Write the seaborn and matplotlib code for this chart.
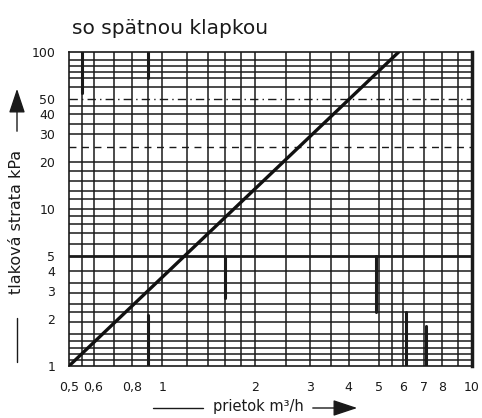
import numpy as np
import pandas as pd
import seaborn as sns
import matplotlib.pyplot as plt

# characteristic line (flow m3/h vs pressure loss kPa)
flow = [0.5, 5.8]
loss = [1, 100]

x_ticks = [0.5, 0.6, 0.8, 1, 2, 3, 4, 5, 6, 7, 8, 10]
x_labels = ['0,5', '0,6', '0,8', '1', '2', '3', '4', '5', '6', '7', '8', '10']
y_ticks = [1, 2, 3, 4, 5, 10, 20, 30, 40, 50, 100]
y_labels = ['1', '2', '3', '4', '5', '10', '20', '30', '40', '50', '100']

# graph paper grid
x_grid = [0.55, 0.6, 0.7, 0.8, 0.9, 1, 1.2, 1.4, 1.6, 1.8, 2, 2.5, 3, 3.5, 4, 5, 5.5, 6, 7, 8, 9]
y_grid = [1.1, 1.2, 1.3, 1.45, 1.6, 1.9, 2.2, 2.5, 2.9, 3.4, 4, 6, 7, 8, 9, 10,
          11.5, 13, 15, 17.5, 20, 30, 35, 40, 45, 60, 68, 75, 81, 89]

# bold scan artefacts on the paper: (x, y_from, y_to)
bold_v = [(0.55, 55, 100), (0.9, 68, 100), (0.9, 1, 2.1), (1.6, 2.7, 5),
          (4.9, 2.2, 5), (6.1, 1, 2.2), (7.1, 1, 1.8)]

df = pd.DataFrame({'flow': flow, 'loss': loss})

sns.set_style('white')
plt.rcParams['font.family'] = ['DejaVu Sans']

fig = plt.figure(figsize=(4.82, 4.18), dpi=100)
ax = fig.add_axes([69 / 482, 52 / 418, 403 / 482, 314 / 418])
ax.set_xscale('log')
ax.set_yscale('log')
ax.set_xlim(0.5, 10)
ax.set_ylim(1, 100)

for x in x_grid:
    ax.axvline(x, color='#1a1a1a', lw=1.1, zorder=1)
for y in y_grid:
    ax.axhline(y, color='#1a1a1a', lw=1.1, zorder=1)
ax.axhline(5, color='#1a1a1a', lw=2.0, zorder=1)
ax.axhline(50, color='#1a1a1a', lw=1.0, ls=(0, (6, 3, 1, 3)), zorder=1)
ax.axhline(25, color='#1a1a1a', lw=1.0, ls=(0, (5, 4)), zorder=1)
for x, y0, y1 in bold_v:
    ax.plot([x, x], [y0, y1], color='#1a1a1a', lw=2.2, zorder=1)

sns.lineplot(data=df, x='flow', y='loss', color='#111111', lw=2.4, ax=ax, zorder=3)

for s in ax.spines.values():
    s.set_color('#1a1a1a')
    s.set_linewidth(1.2)
ax.spines['right'].set_linewidth(2.5)

ax.set_xticks(x_ticks)
ax.set_xticklabels(x_labels)
ax.set_yticks(y_ticks)
ax.set_yticklabels(y_labels)
ax.minorticks_off()
ax.tick_params(axis='x', length=0, pad=11, labelsize=9, colors='#1a1a1a')
ax.tick_params(axis='y', length=0, pad=10, labelsize=9, colors='#1a1a1a')
ax.set_xlabel('')
ax.set_ylabel('')

fig.text(72 / 482, 1 - 29 / 418, 'so spätnou klapkou', fontsize=14.5,
         ha='left', va='center', color='#1a1a1a')

# x axis caption with arrow
fig.text(258 / 482, 1 - 407 / 418, 'prietok m³/h', fontsize=10.5,
         ha='center', va='center', color='#1a1a1a')
fig.add_artist(plt.Line2D([153 / 482, 203 / 482], [1 - 408 / 418] * 2,
                          color='#1a1a1a', lw=1.0))
ax.annotate('', xy=(360 / 482, 1 - 408 / 418), xytext=(310 / 482, 1 - 408 / 418),
            xycoords='figure fraction',
            arrowprops=dict(arrowstyle='-|>,head_length=1.5,head_width=0.5',
                            color='#1a1a1a', lw=1.0))

# y axis caption with arrow
fig.text(17 / 482, 1 - 222 / 418, 'tlaková strata kPa', fontsize=11.5, rotation=90,
         ha='center', va='center', color='#1a1a1a')
fig.add_artist(plt.Line2D([17 / 482] * 2, [1 - 318 / 418, 1 - 362 / 418],
                          color='#1a1a1a', lw=1.0))
ax.annotate('', xy=(17 / 482, 1 - 86 / 418), xytext=(17 / 482, 1 - 134 / 418),
            xycoords='figure fraction',
            arrowprops=dict(arrowstyle='-|>,head_length=1.5,head_width=0.5',
                            color='#1a1a1a', lw=1.0))

fig.savefig('out.png', dpi=100)
